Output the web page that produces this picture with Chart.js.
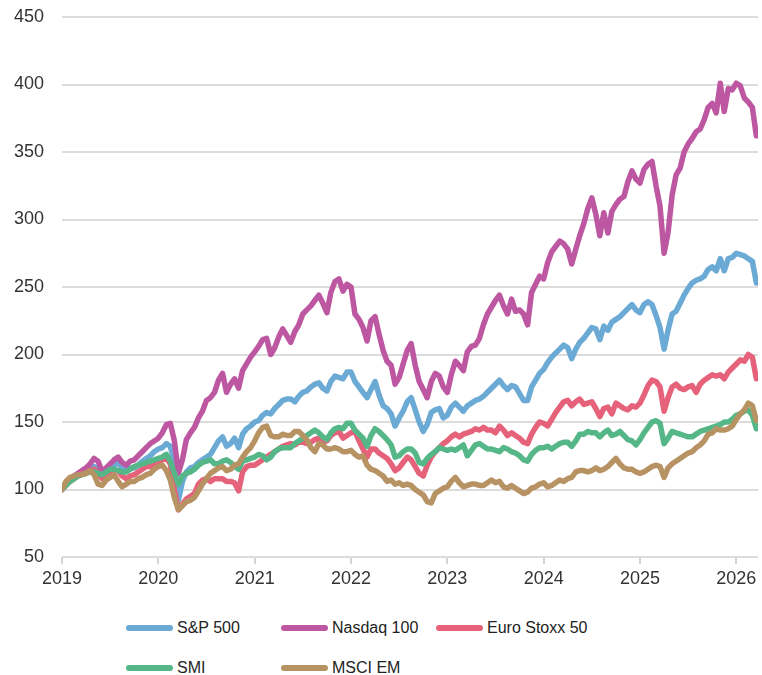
<!DOCTYPE html>
<html>
<head>
<meta charset="utf-8">
<script src="https://cdn.jsdelivr.net/npm/chart.js@4.4.1/dist/chart.umd.min.js"></script>
<style>
  body { margin: 0; background: #fff; font-family: "Liberation Sans", Arial, sans-serif; }
  #wrap { position: relative; width: 762px; height: 675px; }
  #legend { position: absolute; left: 126px; top: 615px; display: grid;
            grid-template-columns: 155px 155px 155px; row-gap: 14px; }
  .item { display: flex; align-items: center; height: 26px; font-size: 16px; color: #222; white-space: nowrap; }
  .sw { width: 47px; height: 6px; border-radius: 3px; margin-right: 4px; }
</style>
</head>
<body>
<div id="wrap">
  <canvas id="chart" width="762" height="600"></canvas>
  <div id="legend"></div>
</div>
<script>
// semi-monthly observations, rebased to 100 at start of 2019
const seriesNames = ['S&P 500', 'Nasdaq 100', 'Euro Stoxx 50', 'SMI', 'MSCI EM'];
const yearTicks = [2019, 2020, 2021, 2022, 2023, 2024, 2025, 2026];
const valueTicks = [50, 100, 150, 200, 250, 300, 350, 400, 450];

const sp500 = [
  100, 104, 107, 110, 111, 112, 113, 116, 117, 115, 110, 112, 116, 118, 120, 116, 114, 116, 116, 118, 121, 123, 125, 128,
  130, 131, 134, 132, 120, 92, 106, 113, 116, 117, 120, 122, 124, 126, 131, 136, 139, 132, 134, 138, 131, 141, 145, 147,
  150, 151, 155, 157, 156, 160, 163, 166, 167, 167, 165, 169, 172, 173, 176, 178, 179, 175, 173, 180, 184, 183, 182, 187,
  187, 180, 176, 172, 168, 174, 180, 170, 162, 160, 156, 147, 153, 158, 165, 168, 159, 150, 143, 148, 157, 159, 160, 153,
  155, 161, 164, 161, 158, 162, 164, 166, 167, 169, 172, 175, 178, 181, 177, 174, 177, 176, 171, 166, 166, 176, 181, 186,
  189, 194, 198, 201, 204, 207, 205, 197, 204, 209, 212, 216, 220, 219, 211, 221, 218, 224, 226, 228, 231, 234, 237, 233,
  231, 237, 239, 237, 229, 220, 204, 218, 230, 232, 238, 244, 249, 253, 255, 256, 258, 263, 265, 262, 271, 262, 271, 272,
  275, 274, 273, 271, 269, 253
];
const nasdaq100 = [
  100, 104, 107, 110, 112, 114, 116, 119, 123, 121, 113, 116, 119, 122, 124, 120, 118, 121, 122, 125, 128, 131, 134, 136,
  138, 142, 148, 149, 136, 112, 122, 137, 142, 146, 153, 158, 166, 168, 172, 181, 186, 172, 178, 182, 175, 188, 193, 198,
  202, 206, 211, 212, 200, 205, 213, 219, 214, 209, 217, 222, 230, 233, 236, 240, 244, 238, 231, 246, 254, 256, 247, 252,
  250, 230, 226, 220, 210, 225, 228, 215, 203, 195, 192, 178, 183, 193, 203, 208, 192, 180, 174, 168, 180, 186, 184, 176,
  172, 185, 195, 192, 188, 202, 206, 207, 212, 222, 230, 235, 240, 244, 236, 230, 241, 232, 233, 230, 222, 246, 252, 258,
  256, 268, 276, 280, 284, 282, 278, 267, 278, 288, 297, 308, 316, 304, 288, 305, 290, 306, 311, 315, 317, 328, 336, 330,
  327, 337, 341, 343, 325, 310, 275, 290, 318, 333, 338, 350, 356, 360, 365, 367, 374, 383, 386, 379, 401, 380, 397, 396,
  401, 399, 390, 387, 383, 362
];
const euroStoxx50 = [
  100, 103, 106, 108, 110, 112, 112, 114, 115, 112, 108, 110, 113, 114, 114, 110, 108, 110, 111, 113, 115, 117, 117, 119,
  120, 122, 123, 119, 100, 85, 89, 93, 95, 97, 104, 107, 108, 106, 108, 108, 108, 106, 106, 105, 99, 113, 117, 118,
  118, 120, 122, 124, 126, 128, 130, 132, 133, 134, 133, 135, 135, 134, 135, 137, 138, 135, 136, 140, 142, 143, 138, 140,
  142, 143, 136, 130, 124, 130, 130, 127, 125, 123, 119, 114, 116, 120, 124, 122, 117, 112, 110, 118, 124, 128, 131, 134,
  136, 139, 141, 139, 141, 142, 143, 145, 144, 146, 144, 144, 142, 147, 144, 140, 142, 140, 138, 135, 134, 141, 146, 150,
  149, 147, 152, 157, 161, 165, 166, 162, 165, 167, 163, 164, 165, 160, 154, 160, 161, 156, 164, 162, 160, 159, 162, 161,
  164, 170, 177, 181, 180, 176, 158, 168, 176, 178, 175, 174, 176, 177, 172, 178, 181, 183, 185, 184, 185, 182, 187, 190,
  193, 196, 195, 200, 198, 182
];
const smi = [
  100, 103, 106, 108, 110, 111, 112, 113, 113, 112, 111, 113, 115, 115, 114, 113, 113, 115, 117, 118, 119, 120, 121, 122,
  123, 124, 126, 121, 112, 104, 110, 112, 113, 115, 118, 120, 121, 122, 119, 119, 121, 122, 120, 117, 115, 121, 122, 123,
  124, 126, 125, 122, 124, 128, 130, 131, 131, 131, 134, 136, 138, 140, 142, 144, 142, 139, 137, 142, 145, 146, 145, 149,
  149, 144, 141, 138, 132, 140, 145, 143, 140, 137, 133, 124, 125, 128, 130, 130, 127, 120, 119, 123, 126, 128, 131, 130,
  129, 130, 129, 131, 133, 125, 129, 133, 134, 132, 130, 130, 129, 128, 131, 130, 128, 127, 125, 122, 121, 126, 129, 131,
  131, 132, 130, 132, 134, 135, 135, 132, 136, 141, 141, 143, 142, 142, 139, 142, 144, 140, 141, 143, 140, 137, 136, 133,
  137, 142, 146, 150, 151, 149, 134, 138, 143, 142, 141, 140, 139, 139, 141, 143, 144, 145, 146, 147, 148, 150, 150, 152,
  155, 156, 158, 159, 155, 145
];
const msciEm = [
  100, 106, 109, 110, 111, 111, 112, 114, 111, 104, 103, 107, 109, 111, 106, 102, 104, 106, 106, 108, 109, 111, 112, 115,
  117, 118, 114, 107, 94, 85, 88, 91, 92, 94, 99, 104, 108, 112, 114, 116, 117, 114, 115, 118, 119, 124, 128, 131,
  136, 142, 146, 147, 140, 139, 139, 141, 140, 140, 143, 143, 140, 137, 131, 128, 134, 133, 130, 130, 131, 130, 128, 128,
  129, 126, 124, 125, 118, 115, 114, 112, 110, 106, 107, 104, 105, 103, 104, 103, 100, 98, 96, 91, 90, 97, 99, 101,
  102, 106, 109, 105, 102, 103, 104, 104, 103, 103, 105, 107, 105, 106, 102, 101, 103, 101, 99, 97, 98, 101, 102, 104,
  105, 102, 103, 105, 107, 106, 108, 109, 113, 114, 114, 113, 114, 116, 114, 115, 117, 120, 123, 119, 116, 115, 115, 113,
  112, 113, 115, 117, 118, 117, 109, 116, 119, 121, 123, 125, 127, 128, 131, 133, 136, 141, 142, 145, 144, 144, 145, 147,
  152, 156, 159, 164, 162, 151
];

// dates: 1st and 16th of each month, Jan 2019 .. mid Mar 2026
const dates = [];
for (let y = 2019; y <= 2026; y++) {
  for (let m = 1; m <= 12; m++) {
    for (const d of [1, 16]) {
      if (dates.length < sp500.length) dates.push(y + '-' + String(m).padStart(2, '0') + '-' + String(d).padStart(2, '0'));
    }
  }
}
function toYear(s) {
  const [y, m, d] = s.split('-').map(Number);
  return y + (m - 1) / 12 + (d - 1) / 365;
}
const xs = dates.map(toYear);

const colors = ['#6aaad5', '#bd57a1', '#e5627a', '#55b787', '#b79364'];
const allSeries = [sp500, nasdaq100, euroStoxx50, smi, msciEm];

const datasets = allSeries.map((vals, i) => ({
  label: seriesNames[i],
  data: vals.map((v, j) => ({ x: xs[j], y: v })),
  borderColor: colors[i],
  backgroundColor: colors[i],
  borderWidth: 5.5,
  pointRadius: 0,
  tension: 0,
  borderJoinStyle: 'round',
  borderCapStyle: 'round',
  order: allSeries.length - 1 - i   // later series drawn on top
}));

const tickFont = { family: '"Liberation Sans", Arial, sans-serif', size: 18 };

new Chart(document.getElementById('chart'), {
  type: 'line',
  data: { datasets },
  options: {
    responsive: false,
    animation: false,
    layout: { padding: { top: 17, right: 4, left: 0, bottom: 0 } },
    plugins: { legend: { display: false }, tooltip: { enabled: false } },
    scales: {
      x: {
        type: 'linear',
        min: 2019,
        max: 2026.225,
        afterBuildTicks: s => { s.ticks = yearTicks.map(v => ({ value: v })); },
        afterFit: s => { s.height = 43; },
        ticks: { callback: v => String(v), color: '#333', font: tickFont, padding: 4, maxRotation: 0 },
        grid: { drawOnChartArea: false, drawTicks: true, tickLength: 7, color: '#d4d4d4', lineWidth: 2 },
        border: { display: false }
      },
      y: {
        min: 50,
        max: 450,
        afterBuildTicks: s => { s.ticks = valueTicks.map(v => ({ value: v })); },
        afterFit: s => { s.width = 62; s.paddingTop = 0; s.paddingBottom = 0; },
        ticks: { color: '#333', font: tickFont, padding: 18 },
        grid: { color: '#dcdcdc', lineWidth: 2, drawTicks: false },
        border: { display: false }
      }
    }
  }
});

const legend = document.getElementById('legend');
seriesNames.forEach((name, i) => {
  const item = document.createElement('div');
  item.className = 'item';
  item.innerHTML = '<span class="sw" style="background:' + colors[i] + '"></span><span></span>';
  item.lastChild.textContent = name;
  legend.appendChild(item);
});
</script>
</body>
</html>
